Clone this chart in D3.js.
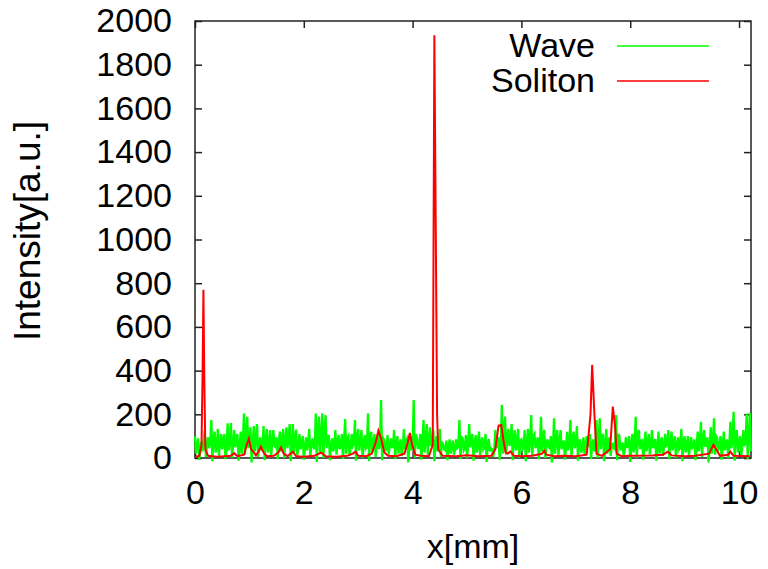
<!DOCTYPE html>
<html>
<head>
<meta charset="utf-8">
<script src="https://cdn.jsdelivr.net/npm/d3@7"></script>
<style>
    body { margin: 0; background: #fff; }
    svg text { font-family: "Liberation Sans", Arial, sans-serif; font-size: 34px; fill: #000; }
    .frame { fill: none; stroke: #222; stroke-width: 1.5; }
    .tick line { stroke: #222; stroke-width: 1.5; }
</style>
</head>
<body>
<svg id="chart" width="768" height="569"></svg>
<script>
/*
 Data
 */

// distance between wave samples, mm
var WAVE_STEP = 0.06;

// upper points of the wave trace, one per sample
var waveHigh = [
    100, 90, 75, 128, 95, 174, 121, 133, 110, 110,
    159, 160, 128, 110, 121, 204, 189, 140, 146, 155,
    95, 146, 133, 128, 128, 95, 121, 133, 140, 155,
    155, 130, 110, 100, 95, 133, 90, 204, 189, 204,
    196, 105, 90, 128, 105, 110, 178, 100, 110, 174,
    133, 128, 105, 204, 120, 110, 105, 265, 80, 105,
    90, 128, 100, 85, 133, 90, 100, 265, 90, 110,
    174, 155, 140, 128, 100, 133, 60, 80, 85, 80,
    85, 174, 90, 105, 155, 110, 105, 121, 95, 110,
    87, 40, 128, 95, 243, 189, 133, 155, 128, 133,
    85, 128, 133, 197, 110, 95, 189, 128, 85, 100,
    182, 128, 128, 80, 120, 174, 121, 146, 80, 95,
    100, 110, 85, 174, 182, 110, 133, 95, 70, 197,
    100, 70, 95, 100, 110, 189, 128, 85, 121, 110,
    128, 87, 121, 95, 110, 128, 121, 100, 95, 133,
    100, 100, 95, 85, 121, 166, 128, 95, 140, 182,
    90, 100, 121, 85, 166, 212, 128, 100, 128, 204,
    207
];

// dips of the wave trace, a third of a step after each upper point
var waveLow = [
    20, -8, 30, 5, 45, -15, 25, 10, 40, -5,
    35, 0, 50, -12, 20, 15, 45, -20, 30, 5,
    40, -10, 25, 10, 55, -5, 30, 0, 45, -15,
    20, 10, 40, -8, 35, 5, 50, -18, 25, 0,
    45, -10, 30, 15, 40, -5, 20, 10, 55, -12,
    35, 0, 45, -15, 25, 5, 40, -10, 30, 15,
    50, -5, 20, 10, 40, -20, 35, 0, 45, -8,
    25, 10, 55, -15, 30, 5, 40, -10, 20, 15,
    45, -5, 35, 0, 50, -12, 25, 10, 40, -18,
    30, 5, 45, -8, 20, 15, 55, -10, 35, 0,
    40, -15, 25, 10, 45, -5, 30, 0, 50, -20,
    20, 10, 40, -8, 35, 5, 45, -12, 25, 15,
    55, -5, 30, 0, 40, -15, 20, 10, 45, -10,
    35, 5, 50, -18, 25, 0, 40, -8, 30, 15,
    45, -12, 20, 10, 55, -5, 35, 0, 40, -15,
    25, 10, 45, -10, 30, 5, 50, -20, 20, 15,
    40, -8, 35, 0, 45, -12, 25, 10, 55, -5,
    30
];

// smaller bumps of the wave trace, two thirds of a step after each upper point
var waveMid = [
    60, 45, 80, 55, 70, 90, 50, 65, 85, 40,
    75, 60, 95, 50, 70, 110, 80, 55, 90, 65,
    45, 85, 60, 75, 50, 70, 55, 80, 95, 60,
    85, 50, 65, 45, 70, 60, 40, 120, 95, 110,
    85, 55, 50, 70, 60, 75, 90, 45, 65, 95,
    70, 60, 55, 100, 65, 50, 60, 90, 45, 55,
    50, 70, 60, 45, 80, 55, 50, 110, 45, 65,
    90, 80, 70, 60, 55, 75, 35, 45, 50, 40,
    50, 95, 45, 60, 85, 65, 55, 70, 50, 60,
    45, 30, 70, 55, 130, 100, 75, 85, 65, 80,
    50, 70, 75, 100, 60, 50, 95, 70, 45, 55,
    90, 70, 65, 45, 60, 90, 65, 80, 40, 50,
    55, 60, 45, 95, 100, 60, 75, 50, 40, 110,
    55, 40, 50, 55, 60, 100, 70, 45, 65, 60,
    70, 50, 65, 50, 60, 70, 65, 55, 50, 75,
    55, 55, 50, 45, 65, 90, 70, 50, 75, 100,
    50, 55, 65, 45, 90, 110, 70, 55, 70, 110,
    100
];

var solitonX = [
    0.00, 0.08, 0.12, 0.14, 0.155, 0.17, 0.19, 0.24, 0.40, 0.55,
    0.66, 0.72, 0.78, 0.90, 0.95, 0.99, 1.03, 1.07, 1.12, 1.17,
    1.21, 1.26, 1.32, 1.45, 1.53, 1.58, 1.63, 1.70, 1.80, 1.86,
    2.00, 2.20, 2.32, 2.40, 2.60, 2.80, 2.90, 2.95, 3.00, 3.15,
    3.25, 3.32, 3.37, 3.42, 3.48, 3.55, 3.70, 3.85, 3.91, 3.95,
    3.99, 4.05, 4.15, 4.30, 4.37, 4.40, 4.45, 4.47, 4.55, 4.80,
    5.00, 5.20, 5.45, 5.52, 5.58, 5.63, 5.67, 5.71, 5.75, 5.80,
    5.86, 6.00, 6.20, 6.38, 6.42, 6.46, 6.60, 6.80, 7.00, 7.20,
    7.27, 7.30, 7.34, 7.38, 7.48, 7.63, 7.68, 7.72, 7.75, 7.84,
    8.00, 8.40, 8.60, 8.69, 8.76, 9.00, 9.20, 9.45, 9.53, 9.58,
    9.65, 9.80, 9.84, 9.90, 10.20
];

var solitonY = [
    5, 10, 60, 400, 770, 380, 40, 10, 6, 8,
    10, 22, 8, 15, 60, 88, 40, 30, 12, 30,
    52, 25, 8, 10, 25, 48, 20, 8, 29, 8,
    6, 10, 25, 8, 6, 10, 20, 29, 10, 8,
    20, 70, 125, 90, 25, 10, 8, 20, 70, 115,
    60, 15, 10, 8, 60, 1935, 200, 40, 10, 8,
    12, 8, 10, 40, 148, 151, 80, 25, 20, 30,
    10, 8, 10, 20, 34, 15, 8, 10, 8, 15,
    200, 426, 210, 20, 10, 40, 235, 150, 20, 8,
    10, 12, 15, 29, 12, 8, 10, 20, 60, 40,
    10, 15, 29, 10, 8
];

var xTicks = [0, 2, 4, 6, 8, 10];
var yTicks = [0, 200, 400, 600, 800, 1000, 1200, 1400, 1600, 1800, 2000];

var seriesNames = ['Wave', 'Soliton'];
var seriesColors = ['#00ff00', '#ff0000'];
var seriesWidths = [2.3, 2];

/*
 Layout
 */

var VAR_PLOT_LEFT = 195;
var VAR_PLOT_TOP = 21;
var VAR_PLOT_RIGHT = 751;
var VAR_PLOT_BOTTOM = 458;
var VAR_TICK_LENGTH = 7;

var svg = d3.select('#chart');

var x = d3.scaleLinear()
    .domain([0, 10.22])
    .range([VAR_PLOT_LEFT, VAR_PLOT_RIGHT]);

var y = d3.scaleLinear()
    .domain([0, 2000])
    .range([VAR_PLOT_BOTTOM, VAR_PLOT_TOP]);

/*
 Axes, inward ticks on all four sides
 */

function makeAxis(axis, transform, labels) {
    var g = svg.append('g')
        .attr('transform', transform)
        .call(axis.tickFormat(d3.format('d')));
    g.select('.domain').remove();
    if (!labels) g.selectAll('text').remove();
    return g;
}

makeAxis(d3.axisBottom(x).tickValues(xTicks).tickSizeInner(-VAR_TICK_LENGTH).tickSizeOuter(0).tickPadding(22),
    'translate(0,' + VAR_PLOT_BOTTOM + ')', true);
makeAxis(d3.axisTop(x).tickValues(xTicks).tickSizeInner(-VAR_TICK_LENGTH).tickSizeOuter(0),
    'translate(0,' + VAR_PLOT_TOP + ')', false);
makeAxis(d3.axisLeft(y).tickValues(yTicks).tickSizeInner(-VAR_TICK_LENGTH).tickSizeOuter(0).tickPadding(23),
    'translate(' + VAR_PLOT_LEFT + ',0)', true);
makeAxis(d3.axisRight(y).tickValues(yTicks).tickSizeInner(-VAR_TICK_LENGTH).tickSizeOuter(0),
    'translate(' + VAR_PLOT_RIGHT + ',0)', false);

svg.append('rect')
    .classed('frame', true)
    .attr('x', VAR_PLOT_LEFT)
    .attr('y', VAR_PLOT_TOP)
    .attr('width', VAR_PLOT_RIGHT - VAR_PLOT_LEFT)
    .attr('height', VAR_PLOT_BOTTOM - VAR_PLOT_TOP);

/*
 Traces
 */

var wavePoints = [];
waveHigh.forEach(function (v, i) {
    var x0 = i * WAVE_STEP;
    wavePoints.push([x0, v]);
    wavePoints.push([x0 + WAVE_STEP / 3, waveLow[i]]);
    wavePoints.push([x0 + WAVE_STEP * 2 / 3, waveMid[i]]);
});
wavePoints = wavePoints.filter(function (d) {
    return d[0] <= 10.22;
});

var solitonPoints = solitonX.map(function (v, i) {
    return [v, solitonY[i]];
});

var line = d3.line()
    .x(function (d) {
        return x(d[0]);
    })
    .y(function (d) {
        return y(d[1]);
    });

svg.selectAll('.trace')
    .data([wavePoints, solitonPoints])
    .enter()
    .append('path')
    .classed('trace', true)
    .attr('d', line)
    .attr('fill', 'none')
    .attr('stroke', function (d, i) {
        return seriesColors[i];
    })
    .attr('stroke-width', function (d, i) {
        return seriesWidths[i];
    })
    .attr('stroke-linejoin', 'miter');

/*
 Legend and titles
 */

var legend = svg.selectAll('.legend')
    .data(seriesNames)
    .enter()
    .append('g')
    .classed('legend', true)
    .attr('transform', function (d, i) {
        return 'translate(0,' + (46 + i * 35) + ')';
    });

legend.append('text')
    .attr('x', 595)
    .attr('y', 11)
    .attr('text-anchor', 'end')
    .text(function (d) {
        return d;
    });

legend.append('line')
    .attr('x1', 617)
    .attr('x2', 709)
    .attr('y1', 0)
    .attr('y2', 0)
    .attr('stroke', function (d, i) {
        return seriesColors[i];
    })
    .attr('stroke-width', 1.5);

svg.append('text')
    .attr('x', (VAR_PLOT_LEFT + VAR_PLOT_RIGHT) / 2)
    .attr('y', 558)
    .attr('text-anchor', 'middle')
    .text('x[mm]');

svg.append('text')
    .attr('transform', 'translate(40,231) rotate(-90)')
    .attr('text-anchor', 'middle')
    .style('font-size', '37px')
    .text('Intensity[a.u.]');
</script>
</body>
</html>
